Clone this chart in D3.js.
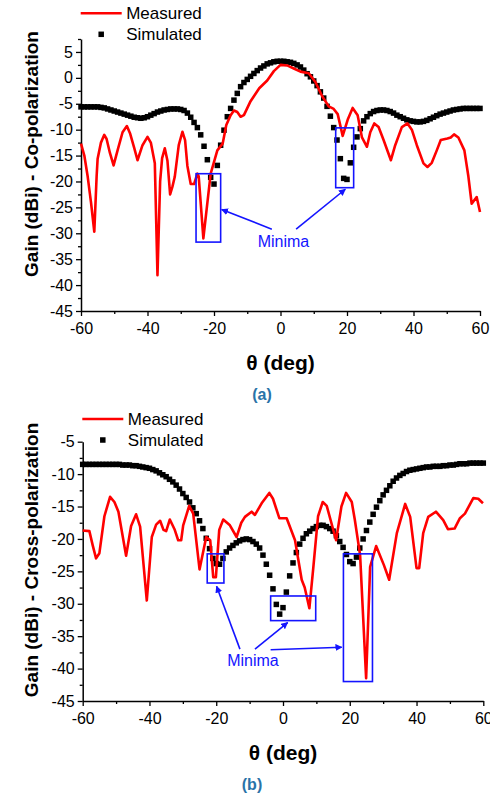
<!DOCTYPE html>
<html>
<head>
<meta charset="utf-8">
<script src="https://cdn.jsdelivr.net/npm/d3@7"></script>
<style>
  body { margin: 0; background: #fff; }
  svg text { font-family: "Liberation Sans", Arial, sans-serif; }
</style>
</head>
<body>
<svg id="chart" width="490" height="796"></svg>
<script>
// ---- data ----
const simTheta = d3.range(-60, 61);

const simCo = [
  -5.6, -5.6, -5.6, -5.6, -5.6, -5.6, -5.7, -5.8, -6.0, -6.2,
  -6.4, -6.6, -6.8, -7.0, -7.2, -7.4, -7.6, -7.7, -7.8, -7.7,
  -7.5, -7.2, -6.9, -6.6, -6.4, -6.2, -6.1, -6.0, -6.0, -6.0,
  -6.1, -6.3, -6.8, -7.6, -8.6, -9.6, -11.0, -13.2, -15.8, -19.2,
  -20.5, -16.9, -13.0, -10.1, -7.5, -5.9, -4.3, -3.0, -1.7, -0.9,
  -0.3, 0.3, 0.85, 1.4, 1.9, 2.3, 2.7, 2.9, 3.1, 3.2,
  3.2, 3.2, 3.1, 3.0, 2.8, 2.5, 2.1, 1.5, 0.8, 0.2,
  -0.6, -1.5, -2.7, -3.9, -5.5, -7.4, -9.6, -12.0, -15.6, -19.4,
  -19.6, -16.4, -13.4, -11.4, -9.8, -8.3, -7.5, -6.9, -6.5, -6.3,
  -6.2, -6.2, -6.3, -6.5, -6.8, -7.2, -7.5, -7.8, -8.1, -8.3,
  -8.4, -8.5, -8.5, -8.4, -8.2, -7.9, -7.6, -7.3, -7.0, -6.8,
  -6.6, -6.4, -6.2, -6.1, -6.0, -5.9, -5.9, -5.9, -5.9, -5.9,
  -5.9
];

const measCoTheta = [
  -60, -59, -58, -57, -56, -55.3, -55, -54, -53, -52.3,
  -51.3, -50.2, -49, -47.5, -46.2, -45.2, -44, -43, -41.5, -40,
  -39, -37.8, -37, -36.2, -35.6, -34.8, -34, -33.2, -32.5, -31.8,
  -30.6, -29.5, -28.7, -28, -27, -26, -25, -24.6, -23.2, -21,
  -19, -17.4, -16.3, -15, -14, -13, -12, -11, -9, -6.4,
  -4, -2, 0, 2, 4, 6, 8.5, 10.5, 12.5, 14.5,
  16, 17.2, 18.7, 20.2, 21.7, 23.2, 24.5, 26, 27, 28.2,
  29.5, 31, 33.2, 34.5, 36.5, 38.2, 39.5, 41, 43, 44.2,
  45.5, 47, 48.2, 50.2, 51.2, 52.2, 53.5, 55.3, 56.5, 57.5,
  59, 60
];
const measCoGain = [
  -12.7, -15, -19, -24, -29.7, -19, -15.6, -12.5, -11, -11.8,
  -14.5, -16.9, -14, -10.5, -9.3, -10.8, -13.5, -15.9, -13, -11.4,
  -12.5, -16.5, -38.1, -20, -15.5, -13.6, -16, -22.5, -21, -19.1,
  -13, -10.4, -12, -17, -20.5, -20.5, -18.5, -19, -31, -18.5,
  -14, -12.7, -9.1, -7.2, -6.3, -6.6, -7.5, -7.2, -4.5, -2.0,
  -0.5, 1.3, 2.5, 2.4, 1.8, 1.2, 0.9, -0.8, -3.5, -5.5,
  -6.0, -7.0, -11.2, -8.1, -5.8, -7.2, -11.5, -13.3, -10.5, -8.8,
  -9.5, -12, -15.9, -13, -9.5, -8.8, -10, -13, -16.5, -17.2,
  -16.4, -14, -12, -11.7, -11.5, -10.9, -11.5, -14, -19, -24.3,
  -23, -25.9
];

const simCross = [
  -8.5, -8.5, -8.5, -8.5, -8.5, -8.5, -8.5, -8.5, -8.5, -8.5,
  -8.5, -8.5, -8.6, -8.6, -8.6, -8.7, -8.7, -8.8, -8.9, -9.0,
  -9.1, -9.3, -9.5, -9.8, -10.1, -10.4, -10.8, -11.2, -11.7, -12.3,
  -13.0, -13.6, -14.3, -15.2, -16.1, -17.2, -18.4, -19.9, -21.5, -23.0,
  -23.8, -23.9, -23.0, -22.0, -21.4, -21.0, -20.6, -20.3, -20.1, -20.0,
  -20.1, -20.4, -20.8, -21.4, -22.5, -23.9, -25.6, -27.7, -30.1, -31.6,
  -30.6, -28.2, -25.7, -23.7, -22.1, -20.8, -19.9, -19.2, -18.8, -18.4,
  -18.1, -17.9, -17.9, -18.1, -18.4, -18.8, -19.5, -20.4, -21.3, -22.4,
  -23.5, -23.8, -22.8, -21.4, -20.0, -18.7, -17.4, -16.2, -15.1, -14.1,
  -13.2, -12.5, -11.8, -11.1, -10.6, -10.2, -9.9, -9.6, -9.4, -9.3,
  -9.2, -9.1, -9.0, -8.9, -8.9, -8.8, -8.8, -8.8, -8.7, -8.7,
  -8.6, -8.6, -8.5, -8.4, -8.4, -8.4, -8.3, -8.3, -8.3, -8.3,
  -8.3
];

const measCrossTheta = [
  -60, -58, -57, -56, -55, -53.5, -51.8, -50.5, -49.3, -47,
  -45.5, -44, -42.8, -40.8, -39.3, -38, -36.8, -35.8, -35, -33.9,
  -32.5, -31.4, -30.5, -29.9, -28.1, -26.9, -25, -23, -21.8, -20.9,
  -20.1, -19.1, -17.9, -15.9, -13.9, -12.5, -11.4, -9.4, -8.4, -6.4,
  -4.1, -3, -1.1, 1.1, 3.6, 5.6, 6.5, 7.9, 9.1, 10.5,
  11.9, 13.1, 15.9, 17.5, 18.9, 20.6, 21.5, 23.1, 24.9, 26.1,
  27.9, 30.2, 31.8, 34.1, 36.6, 38.1, 40, 40.8, 42, 43.5,
  45.8, 48, 49.4, 51.4, 53, 54.5, 57, 58.5, 59.9
];
const measCrossGain = [
  -18.7, -18.8, -21, -23, -22.2, -16.5, -13.5, -14.3, -15.8, -22.6,
  -18, -16.2, -18.1, -29.5, -19.7, -17.8, -17.2, -18.6, -18.8, -17.0,
  -18.5, -20.2, -20.2, -17.9, -14.9, -16.1, -24.7, -19.7, -20.2, -25.9,
  -25.9, -18.6, -17, -17.9, -19.7, -17.5, -16.6, -15.8, -16.3, -14.5,
  -12.9, -13.8, -16.8, -16.8, -20.2, -26.3, -27.5, -30.7, -24.3, -16.5,
  -14.3, -14.9, -20.2, -15, -12.9, -14.3, -17, -22.5, -41.5, -24.3,
  -21.1, -24.0, -26.3, -19.1, -14.6, -16.6, -24.5, -24.5, -19.1, -16.6,
  -15.8, -17.1, -18.5, -18.4, -16.8, -16.1, -13.7, -13.8, -14.5
];

const xTicks = [-60, -40, -20, 0, 20, 40, 60];
const xMinorTicks = [-50, -30, -10, 10, 30, 50];
const coTicks = [-45, -40, -35, -30, -25, -20, -15, -10, -5, 0, 5];
const coMinorTicks = [-42.5, -37.5, -32.5, -27.5, -22.5, -17.5, -12.5, -7.5, -2.5, 2.5, 7.5];
const crossTicks = [-45, -40, -35, -30, -25, -20, -15, -10, -5];
const crossMinorTicks = [-42.5, -37.5, -32.5, -27.5, -22.5, -17.5, -12.5, -7.5];

const seriesNames = ["Measured", "Simulated"];
const noteLabel = "Minima";

// minima boxes: [theta from, theta to, gain top, gain bottom]
const coBoxes = [[-25.4, -18.0, -18.5, -31.7], [16.6, 22.0, -9.65, -21.2]];
const crossBoxes = [[-22.7, -17.7, -22.3, -26.8], [-3.7, 9.8, -28.8, -32.6], [18.1, 26.8, -22.3, -42.0]];
// arrows: [theta start, gain start, theta end, gain end]
const coArrows = [[-2.6, -29.2, -17.7, -25.4], [4.7, -29.2, 19.5, -21.5]];
const crossArrows = [[-12.9, -37.0, -19.9, -27.3], [-8.4, -37.0, 1.4, -32.9], [-3.7, -37.1, 17.6, -36.7]];
const coNote = [0.9, -31.5];
const crossNote = [-9.0, -38.7];

// ---- drawing ----
const svg = d3.select('#chart');
const red = '#ff0000';
const blue = '#1414ff';
const plain = d => String(d);   // keep ASCII hyphen for negatives

svg.append('defs').append('marker')
  .attr('id', 'arrow')
  .attr('viewBox', '0 0 10 10')
  .attr('refX', 9).attr('refY', 5)
  .attr('markerWidth', 7).attr('markerHeight', 7)
  .attr('markerUnits', 'userSpaceOnUse')
  .attr('orient', 'auto')
  .append('path')
  .attr('d', 'M0,0 L10,5 L0,10 Z')
  .attr('fill', blue);

function drawPanel(p) {
  const x = d3.scaleLinear().domain([-60, 60]).range([p.left, p.right]);
  const y = d3.scaleLinear().domain(p.yDomain).range([p.bottom, p.top]);
  const g = svg.append('g');

  // minor ticks
  g.append('g')
    .attr('transform', `translate(0,${p.bottom})`)
    .call(d3.axisBottom(x).tickValues(xMinorTicks).tickSize(3).tickFormat(''))
    .call(a => a.select('.domain').remove());
  g.append('g')
    .attr('transform', `translate(${p.left},0)`)
    .call(d3.axisLeft(y).tickValues(p.minorTicks).tickSize(3).tickFormat(''))
    .call(a => a.select('.domain').remove());

  const xAxis = g.append('g')
    .attr('transform', `translate(0,${p.bottom})`)
    .call(d3.axisBottom(x).tickValues(xTicks).tickFormat(plain)
      .tickSize(5).tickPadding(7).tickSizeOuter(0));
  const yAxis = g.append('g')
    .attr('transform', `translate(${p.left},0)`)
    .call(d3.axisLeft(y).tickValues(p.ticks).tickFormat(plain)
      .tickSize(5).tickPadding(3).tickSizeOuter(0));

  [xAxis, yAxis].forEach(a => {
    a.selectAll('path, line').attr('stroke', '#000').attr('stroke-width', 1.5);
    a.selectAll('text').attr('font-size', 16).attr('fill', '#000')
      .attr('font-family', '"Liberation Sans", Arial, sans-serif');
  });
  g.selectAll('.tick line').attr('stroke', '#000').attr('stroke-width', 1.3);

  // simulated squares
  const sq = 5.5;
  g.append('g').selectAll('rect')
    .data(simTheta.map((t, i) => [t, p.sim[i]]))
    .enter().append('rect')
    .attr('x', d => x(d[0]) - sq / 2)
    .attr('y', d => y(d[1]) - sq / 2)
    .attr('width', sq).attr('height', sq)
    .attr('fill', '#000');

  // measured line
  const line = d3.line().x(d => x(d[0])).y(d => y(d[1]));
  g.append('path')
    .datum(p.measTheta.map((t, i) => [t, p.measGain[i]]))
    .attr('d', line)
    .attr('fill', 'none')
    .attr('stroke', red)
    .attr('stroke-width', 2.6)
    .attr('stroke-linejoin', 'round');

  // minima boxes and arrows
  g.append('g').selectAll('rect')
    .data(p.boxes)
    .enter().append('rect')
    .attr('x', d => x(d[0]))
    .attr('y', d => y(d[2]))
    .attr('width', d => x(d[1]) - x(d[0]))
    .attr('height', d => y(d[3]) - y(d[2]))
    .attr('fill', 'none')
    .attr('stroke', blue)
    .attr('stroke-width', 1.6);

  g.append('g').selectAll('line')
    .data(p.arrows)
    .enter().append('line')
    .attr('x1', d => x(d[0])).attr('y1', d => y(d[1]))
    .attr('x2', d => x(d[2])).attr('y2', d => y(d[3]))
    .attr('stroke', blue)
    .attr('stroke-width', 1.6)
    .attr('marker-end', 'url(#arrow)');

  g.append('text')
    .attr('x', x(p.note[0])).attr('y', y(p.note[1]))
    .attr('dy', '0.35em')
    .attr('text-anchor', 'middle')
    .attr('font-size', 16)
    .attr('fill', blue)
    .text(noteLabel);

  // legend
  const lg = g.append('g').attr('transform', `translate(${p.legend[0]},${p.legend[1]})`);
  lg.append('line').attr('x1', 0).attr('x2', 41).attr('y1', 0).attr('y2', 0)
    .attr('stroke', red).attr('stroke-width', 2.6);
  lg.append('rect').attr('x', 20.5 - sq / 2).attr('y', 21 - sq / 2)
    .attr('width', sq).attr('height', sq).attr('fill', '#000');
  lg.selectAll('text').data(seriesNames).enter().append('text')
    .attr('x', 45.5).attr('y', (d, i) => i * 21)
    .attr('dy', '0.35em')
    .attr('font-size', 17)
    .text(d => d);

  // axis titles
  g.append('text')
    .attr('x', (p.left + p.right) / 2).attr('y', p.bottom + 59)
    .attr('text-anchor', 'middle')
    .attr('font-size', 21).attr('font-weight', 'bold')
    .text('θ (deg)');
  g.append('text')
    .attr('transform', `translate(38,${p.titleY}) rotate(-90)`)
    .attr('text-anchor', 'middle')
    .attr('font-size', 19).attr('font-weight', 'bold')
    .text(p.yTitle);
  g.append('text')
    .attr('x', p.capX).attr('y', p.bottom + 89)
    .attr('text-anchor', 'middle')
    .attr('font-size', 16).attr('font-weight', 'bold')
    .attr('fill', '#2a73a8')
    .text(p.caption);
}

drawPanel({
  left: 81, right: 480, top: 39, bottom: 311,
  yDomain: [-45, 7.5], ticks: coTicks, minorTicks: coMinorTicks,
  sim: simCo, measTheta: measCoTheta, measGain: measCoGain,
  boxes: coBoxes, arrows: coArrows, note: coNote,
  legend: [80.7, 13.3], titleY: 154, capX: 262,
  yTitle: 'Gain (dBi) - Co-polarization', caption: '(a)'
});

drawPanel({
  left: 82.7, right: 483.3, top: 441.7, bottom: 701,
  yDomain: [-45, -5], ticks: crossTicks, minorTicks: crossMinorTicks,
  sim: simCross, measTheta: measCrossTheta, measGain: measCrossGain,
  boxes: crossBoxes, arrows: crossArrows, note: crossNote,
  legend: [82.3, 419], titleY: 560, capX: 252,
  yTitle: 'Gain (dBi) - Cross-polarization', caption: '(b)'
});
</script>
</body>
</html>
